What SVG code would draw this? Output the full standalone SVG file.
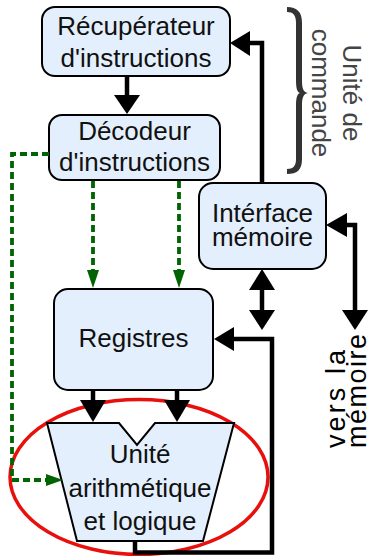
<svg xmlns="http://www.w3.org/2000/svg" width="371" height="556" viewBox="0 0 371 556">
<style>
.box{fill:#e3effc;stroke:#000;stroke-width:2}
.t{font-family:"Liberation Sans",Arial,sans-serif;font-size:26px;fill:#111;text-anchor:middle}
.blk{fill:none;stroke:#000;stroke-width:4.5}
.ah{fill:#000}
.grn{fill:none;stroke:#006400;stroke-width:3.8;stroke-dasharray:7,4}
.gah{fill:#006400}
</style>
<rect width="371" height="556" fill="#fff"/>
<ellipse id="highlight" cx="139" cy="477" rx="129" ry="77.5" fill="none" stroke="#e8100c" stroke-width="3.5"/>
<g id="recuperateur">
<rect class="box" x="42" y="7" width="188" height="69" rx="13"/>
<text class="t" x="136" y="35">Récupérateur</text>
<text class="t" x="136" y="67">d'instructions</text>
</g>
<g id="decodeur">
<rect class="box" x="49" y="115" width="171" height="65" rx="13"/>
<text class="t" x="134.5" y="140">Décodeur</text>
<text class="t" x="134.5" y="171">d'instructions</text>
</g>
<g id="interface">
<rect class="box" x="199" y="183" width="127" height="86" rx="14"/>
<text class="t" x="262.5" y="222">Intérface</text>
<text class="t" x="262.5" y="246">mémoire</text>
</g>
<g id="registres">
<rect class="box" x="54" y="289" width="159" height="101" rx="14"/>
<text class="t" x="133.5" y="347">Registres</text>
</g>
<g id="alu">
<polygon class="box" points="47,423 119,423 137,445 155,423 234,423 203,541 77,541"/>
<text class="t" x="140" y="463">Unité</text>
<text class="t" x="140" y="497">arithmétique</text>
<text class="t" x="140" y="530">et logique</text>
</g>
<g id="connectors">
<line class="blk" x1="127" y1="76" x2="127" y2="96"/>
<polygon class="ah" points="114,95 140,95 127,114"/>
<polyline class="blk" points="262,183 262,43 249,43"/>
<polygon class="ah" points="230,43 250,31 250,56"/>
<line class="blk" x1="262" y1="289" x2="262" y2="311"/>
<polygon class="ah" points="262,269 275,290 249,290"/>
<polygon class="ah" points="249,310 275,310 262,330"/>
<polyline class="blk" points="345,225 355,225 355,312"/>
<polygon class="ah" points="326,225 347,213 347,237"/>
<polygon class="ah" points="342,310 368,310 355,330"/>
<polyline class="blk" points="135,541 135,552.5 272,552.5 272,339 232,339"/>
<polygon class="ah" points="214,339 234,327 234,351"/>
<line class="blk" x1="93" y1="390" x2="93" y2="401"/>
<polygon class="ah" points="80,400 106,400 93,422"/>
<line class="blk" x1="177" y1="390" x2="177" y2="401"/>
<polygon class="ah" points="164,400 190,400 177,422"/>
<polyline class="grn" points="49,154 12,154 12,480 49,480"/>
<polygon class="gah" points="63,480 46,474 46,486"/>
<line class="grn" x1="93" y1="181" x2="93" y2="272"/>
<polygon class="gah" points="87,270 99,270 93,288"/>
<line class="grn" x1="179" y1="181" x2="179" y2="272"/>
<polygon class="gah" points="173,270 185,270 179,288"/>
</g>
<g id="commande-brace">
<path fill="#333" d="M287,7 C297,7 302,12 302,23 L302,80 C302,88 303,92 308,93 C303,94 302,98 302,106 L302,159 C302,170 297,174 287,174 L287,169 C293,169 296,166 296,159 L296,106 C296,98 297,94 300,93 C297,92 296,88 296,80 L296,23 C296,15 293,12 287,12 Z"/>
<text class="t" style="fill:#444" transform="translate(343,93) rotate(90)">Unité de</text>
<text class="t" style="fill:#444" transform="translate(312,93) rotate(90)">commande</text>
</g>
<g id="vers-memoire">
<text class="t" style="fill:#000;text-anchor:start;font-size:27px" transform="translate(345,448) rotate(-90)" textLength="98" lengthAdjust="spacing">vers la</text>
<text class="t" style="fill:#000;text-anchor:start;font-size:27px" transform="translate(366,448) rotate(-90)" textLength="114" lengthAdjust="spacing">mémoire</text>
</g>
</svg>
